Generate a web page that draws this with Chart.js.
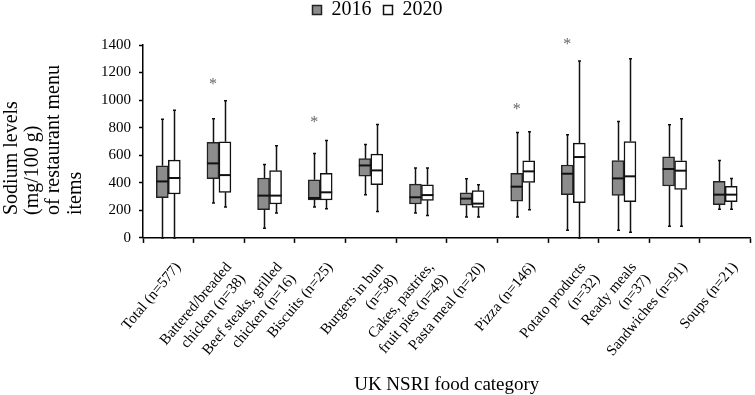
<!DOCTYPE html>
<html>
<head>
<meta charset="utf-8">
<script src="https://cdn.jsdelivr.net/npm/chart.js@4.4.1/dist/chart.umd.min.js"></script>
<style>
body { margin: 0; background: #fff; }
#wrap { width: 755px; height: 395px; }
</style>
</head>
<body>
<div id="wrap"><canvas id="sodium"></canvas></div>
<script>
var categories = [
    'Total (n=577)',
    ['Battered/breaded', 'chicken (n=38)'],
    ['Beef steaks, grilled', 'chicken (n=16)'],
    'Biscuits (n=25)',
    ['Burgers in bun', '(n=58)'],
    ['Cakes, pastries,', 'fruit pies (n=49)'],
    'Pasta meal (n=20)',
    'Pizza (n=146)',
    ['Potato products', '(n=32)'],
    ['Ready meals', '(n=37)'],
    'Sandwiches (n=91)',
    'Soups (n=21)'
];
var years = ['2016', '2020'];
var yTicks = [0, 200, 400, 600, 800, 1000, 1200, 1400];

// 2016 box plot values (whisker low, Q1, median, Q3, whisker high)
var lo16  = [0,   253, 70,  224, 314, 181, 152, 152, 56,  56,  84,  208];
var q1_16 = [292, 430, 205, 275, 449, 246, 237, 266, 314, 309, 377, 241];
var med16 = [410, 541, 307, 290, 526, 295, 285, 372, 466, 432, 500, 314];
var q3_16 = [524, 693, 435, 422, 575, 391, 328, 468, 529, 562, 589, 410];
var hi16  = [862, 864, 533, 613, 678, 507, 430, 765, 748, 845, 821, 562];

// 2020 box plot values
var lo20  = [0,   224, 181, 212, 191, 162, 152, 205, 0,    41,   84,  208];
var q1_20 = [319, 331, 246, 275, 386, 273, 222, 403, 256,  263,  352, 263];
var med20 = [435, 456, 307, 331, 490, 311, 249, 483, 587,  447,  488, 314];
var q3_20 = [565, 698, 488, 468, 608, 386, 343, 560, 688,  700,  560, 374];
var hi20  = [927, 995, 669, 707, 823, 507, 386, 770, 1284, 1301, 864, 432];

// significant difference markers
var stars = [null, 1138, null, 866, null, null, null, 955, 1432, null, null, null];

var yTitle = ['Sodium levels', '(mg/100 g)', 'of restaurant menu', 'items'];
var xTitle = 'UK NSRI food category';

var serif = 'Liberation Serif';

function boxes(q1, q3) {
    return q1.map(function (v, i) { return [v, q3[i]]; });
}

// extra room between legend and plot
var legendGap = {
    id: 'legendGap',
    beforeInit: function (chart) {
        var fit = chart.legend.fit;
        chart.legend.fit = function () {
            fit.call(this);
            this.height += 15;
        };
    }
};

var boxExtras = {
    id: 'boxExtras',
    afterDatasetsDraw: function (chart) {
        var ctx = chart.ctx;
        var ys = chart.scales.y;
        var xs = chart.scales.x;
        var stats = [[lo16, med16, q1_16, q3_16, hi16], [lo20, med20, q1_20, q3_20, hi20]];

        ctx.save();
        ctx.strokeStyle = '#111';
        stats.forEach(function (s, di) {
            var meta = chart.getDatasetMeta(di);
            meta.data.forEach(function (bar, i) {
                var x = Math.round(bar.x) + 0.5;
                var half = bar.width / 2;
                ctx.lineWidth = 1.5;
                ctx.beginPath();
                ctx.moveTo(x, ys.getPixelForValue(s[3][i]));
                ctx.lineTo(x, ys.getPixelForValue(s[4][i]));
                ctx.moveTo(x, ys.getPixelForValue(s[2][i]));
                ctx.lineTo(x, ys.getPixelForValue(s[0][i]));
                ctx.moveTo(x - 1.5, ys.getPixelForValue(s[4][i]));
                ctx.lineTo(x + 1.5, ys.getPixelForValue(s[4][i]));
                ctx.moveTo(x - 1.5, ys.getPixelForValue(s[0][i]));
                ctx.lineTo(x + 1.5, ys.getPixelForValue(s[0][i]));
                ctx.stroke();

                ctx.lineWidth = 2;
                ctx.beginPath();
                ctx.moveTo(bar.x - half, ys.getPixelForValue(s[1][i]));
                ctx.lineTo(bar.x + half, ys.getPixelForValue(s[1][i]));
                ctx.stroke();
            });
        });

        ctx.fillStyle = '#666';
        ctx.font = '16px "' + serif + '"';
        ctx.textAlign = 'center';
        ctx.textBaseline = 'alphabetic';
        stars.forEach(function (v, i) {
            if (v == null) return;
            ctx.fillText('*', xs.getPixelForValue(i) - 6, ys.getPixelForValue(v) + 8);
        });
        ctx.restore();
    },
    afterDraw: function (chart) {
        var ctx = chart.ctx;
        ctx.save();
        ctx.fillStyle = '#000';
        ctx.font = '20px "' + serif + '"';
        ctx.textAlign = 'left';
        ctx.textBaseline = 'alphabetic';
        yTitle.forEach(function (line, k) {
            ctx.save();
            ctx.translate(17 + k * 21.2, 215);
            ctx.rotate(-Math.PI / 2);
            ctx.fillText(line, 0, 0);
            ctx.restore();
        });
        ctx.restore();
    }
};

var ctx = document.getElementById('sodium');
var sodiumChart = new Chart(ctx, {
    type: 'bar',
    data: {
        labels: categories,
        datasets: [
            {
                label: years[0],
                data: boxes(q1_16, q3_16),
                backgroundColor: '#8c8c8c',
                borderColor: '#222',
                borderWidth: 1.5,
                borderSkipped: false,
                barThickness: 12
            },
            {
                label: years[1],
                data: boxes(q1_20, q3_20),
                backgroundColor: '#ffffff',
                borderColor: '#111',
                borderWidth: 1.5,
                borderSkipped: false,
                barThickness: 12
            }
        ]
    },
    options: {
        responsive: true,
        maintainAspectRatio: false,
        animation: false,
        layout: { padding: { left: 0, right: 0, top: -12, bottom: -1 } },
        plugins: {
            tooltip: { enabled: false },
            legend: {
                position: 'top',
                labels: {
                    color: '#000',
                    font: { family: serif, size: 20 },
                    boxWidth: 9,
                    boxHeight: 9,
                    padding: 12
                }
            }
        },
        scales: {
            x: {
                grid: { drawOnChartArea: false, tickLength: 5, tickColor: '#000', tickWidth: 1.5 },
                border: { color: '#000', width: 1.5 },
                ticks: {
                    color: '#000',
                    font: { family: serif, size: 15 },
                    autoSkip: false,
                    minRotation: 50,
                    maxRotation: 50,
                    padding: 16,
                    labelOffset: 10
                },
                title: {
                    display: true,
                    text: xTitle,
                    color: '#000',
                    font: { family: serif, size: 19 },
                    padding: { top: -14, bottom: 0 }
                }
            },
            y: {
                min: yTicks[0],
                max: yTicks[yTicks.length - 1],
                afterFit: function (scale) { scale.width = 143; },
                grid: { drawOnChartArea: false, tickLength: 4, tickColor: '#000', tickWidth: 1.5 },
                border: { color: '#000', width: 1.5 },
                ticks: {
                    stepSize: yTicks[1] - yTicks[0],
                    color: '#000',
                    font: { family: serif, size: 15 },
                    padding: 8,
                    callback: function (v) { return String(v); }
                }
            }
        }
    },
    plugins: [legendGap, boxExtras]
});
</script>
</body>
</html>
